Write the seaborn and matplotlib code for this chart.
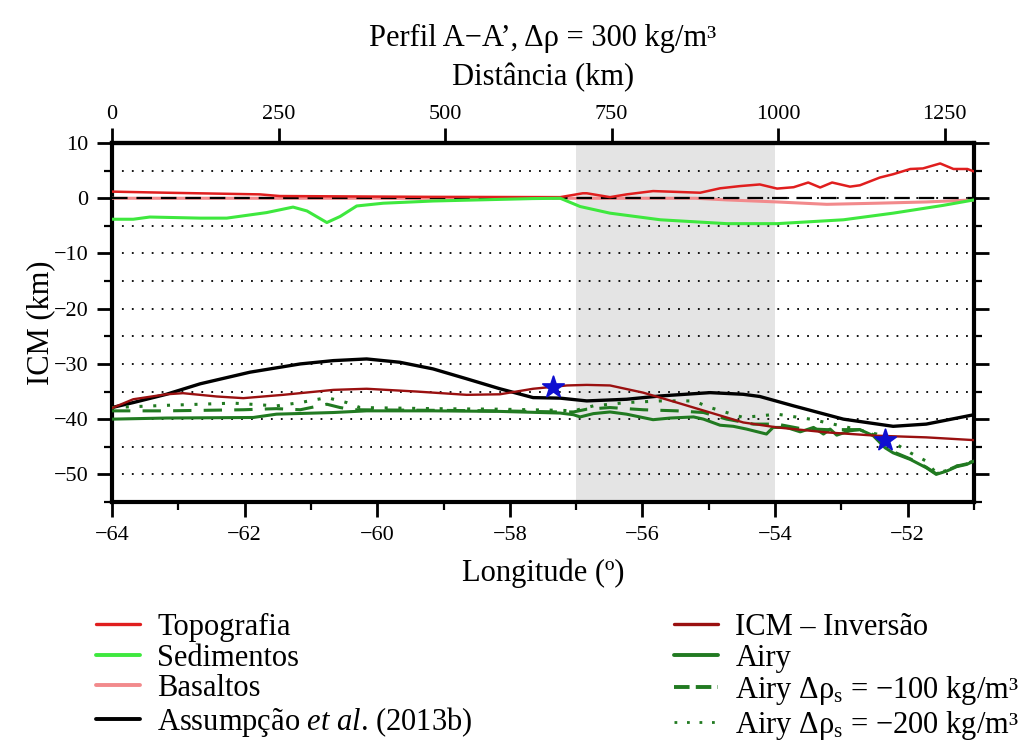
import numpy as np
import matplotlib
matplotlib.use("Agg")
import matplotlib.pyplot as plt
from matplotlib.ticker import MultipleLocator
from matplotlib.lines import Line2D
import seaborn as sns

# ---------------- data ----------------
topo_lon = [-64.0, -63.18, -61.77, -61.47, -59.16, -57.24, -56.9, -56.84, -56.49, -56.24, -55.84,
            -55.48, -55.13, -54.83, -54.53, -54.23, -53.97, -53.72, -53.5, -53.32, -53.14,
            -52.87, -52.72, -52.42, -52.22, -51.96, -51.77, -51.51, -51.31, -51.1, -51.0]
topo_val = [1.2, 1.0, 0.7, 0.4, 0.25, 0.2, 0.9, 0.9, 0.2, 0.7, 1.3,
            1.15, 1.0, 1.8, 2.2, 2.5, 1.75, 2.0, 2.85, 1.95, 2.85,
            2.1, 2.35, 3.75, 4.35, 5.3, 5.4, 6.3, 5.3, 5.3, 4.85]

sed_lon = [-64.0, -63.68, -63.43, -62.67, -62.27, -61.67, -61.27, -61.06, -60.76, -60.56, -60.31,
           -59.91, -59.16, -57.65, -57.24, -56.94, -56.49, -55.73, -54.73, -53.97, -52.97,
           -52.22, -51.47, -51.0]
sed_val = [-3.8, -3.8, -3.4, -3.6, -3.6, -2.6, -1.6, -2.3, -4.4, -3.3, -1.4,
           -0.9, -0.5, -0.06, 0.0, -1.5, -2.7, -3.9, -4.6, -4.6, -3.9,
           -2.7, -1.3, -0.3]

bas_lon = [-64.0, -57.0, -55.2, -54.73, -53.97, -53.22, -52.47, -51.72, -51.0]
bas_val = [0.0, 0.0, 0.0, -0.3, -0.67, -1.1, -0.9, -0.67, -0.3]

ass_lon = [-64.0, -63.68, -63.18, -62.67, -61.92, -61.16, -60.66, -60.16, -59.66, -59.16, -58.65,
           -58.15, -57.65, -57.24, -56.84, -56.24, -55.73, -54.98, -54.48, -54.23, -53.72,
           -52.97, -52.22, -51.72, -51.0]
ass_val = [-37.9, -37.0, -35.5, -33.6, -31.5, -30.0, -29.4, -29.1, -29.7, -30.9, -32.7,
           -34.5, -36.1, -36.2, -36.7, -36.4, -35.8, -35.2, -35.5, -35.9, -37.6,
           -40.0, -41.3, -40.9, -39.2]

icm_lon = [-64.0, -63.68, -63.18, -62.93, -62.42, -62.02, -61.42, -60.66, -60.16, -59.41, -58.65,
           -58.15, -57.65, -57.14, -56.84, -56.49, -55.99, -55.48, -54.98, -54.48, -53.97,
           -53.22, -52.47, -51.72, -51.0]
icm_val = [-38.0, -36.4, -35.5, -35.3, -35.9, -36.2, -35.6, -34.7, -34.5, -35.0, -35.6,
           -35.5, -34.5, -33.9, -33.8, -33.9, -35.2, -37.0, -38.8, -40.6, -41.5,
           -42.4, -43.0, -43.3, -43.8]

airy_lon = [-64.0, -63.18, -61.87, -61.52, -60.66, -60.16, -59.16, -58.15, -57.24, -57.04, -56.94,
            -56.74, -56.49, -56.24, -55.84, -55.58, -55.23, -55.08, -54.83, -54.63, -54.43,
            -54.23, -54.13, -54.03, -53.83, -53.62, -53.42, -53.27, -53.17, -53.07, -52.87,
            -52.72, -52.52, -52.34, -52.22, -51.96, -51.72, -51.57, -51.41, -51.26, -51.11, -51.0]
airy_val = [-40.0, -39.8, -39.7, -39.1, -38.8, -38.5, -38.5, -38.6, -38.9, -39.2, -39.6,
            -39.0, -38.7, -39.1, -40.1, -39.8, -39.6, -40.0, -41.1, -41.3, -41.8,
            -42.4, -42.7, -41.5, -41.5, -42.3, -41.5, -42.7, -41.8, -42.9, -42.1,
            -41.9, -43.0, -45.2, -46.1, -47.3, -48.8, -50.0, -49.4, -48.6, -48.2, -47.6]

a100_lon = [-64.0, -63.18, -62.02, -61.52, -61.16, -60.76, -60.56, -60.36, -59.16, -58.15, -57.24,
            -57.04, -56.84, -56.49, -55.99, -55.48, -55.08, -54.73, -54.33, -53.97, -53.62,
            -53.22, -52.72, -52.52, -52.34, -52.22, -51.96, -51.72, -51.57, -51.41, -51.26, -51.11, -51.0]
a100_val = [-38.5, -38.5, -38.3, -38.1, -38.3, -37.3, -37.9, -38.3, -38.4, -38.5, -38.7,
            -38.7, -38.2, -37.9, -38.3, -38.5, -38.8, -40.0, -40.9, -40.9, -41.7,
            -41.9, -41.9, -42.8, -44.8, -45.9, -47.2, -48.7, -49.9, -49.3, -48.5, -48.1, -47.5]

a200_lon = [-64.0, -63.18, -62.17, -61.52, -61.16, -60.76, -60.46, -60.26, -59.16, -58.15, -57.24,
            -57.04, -56.74, -56.24, -55.73, -55.23, -54.98, -54.48, -53.97, -53.47, -52.97,
            -52.47, -52.22, -51.96, -51.72, -51.57, -51.41, -51.26, -51.11, -51.0]
a200_val = [-37.9, -37.5, -37.1, -37.6, -37.0, -36.1, -37.0, -37.9, -38.1, -38.2, -38.4,
            -38.5, -37.6, -37.0, -36.7, -36.7, -37.9, -39.7, -39.1, -40.0, -41.3,
            -42.7, -44.2, -46.1, -47.6, -49.8, -49.3, -48.5, -48.1, -47.5]

star_lon = [-57.35, -52.34]
star_val = [-34.1, -43.7]

zero_lon = [-64.0, -51.0]
zero_val = [0.0, 0.0]

shade_lon = [-57.0, -54.0]
km_per_deg = 1294.0 / 13.0
top_ticks = [0, 250, 500, 750, 1000, 1250]

labels_left = ["Topografia", "Sedimentos", "Basaltos", "Assumpção $\\it{et\\ al}$. (2013b)"]
labels_right = ["ICM – Inversão", "Airy", "Airy Δρ$_\\mathrm{s}$ = −100 kg/m³",
                "Airy Δρ$_\\mathrm{s}$ = −200 kg/m³"]

# ---------------- style ----------------
sns.set_style("ticks")
plt.rcParams['font.family'] = ['Liberation Serif', 'DejaVu Serif']
plt.rcParams['mathtext.fontset'] = 'custom'
plt.rcParams['mathtext.rm'] = 'Liberation Serif'
plt.rcParams['mathtext.it'] = 'Liberation Serif:italic'
plt.rcParams['mathtext.bf'] = 'Liberation Serif:bold'
plt.rcParams['axes.unicode_minus'] = True
for k in ['text.color', 'axes.labelcolor', 'xtick.color', 'ytick.color', 'axes.edgecolor']:
    plt.rcParams[k] = 'black'

c_topo = '#e01e1e'
c_sed = '#3ee83e'
c_bas = '#f28a8c'
c_ass = '#000000'
c_icm = '#9a1010'
c_airy = '#217a21'

fig = plt.figure(figsize=(10.23, 7.43), dpi=100)
ax = fig.add_axes([0.1095, 0.3244, 0.8426, 0.4831])

ax.axvspan(shade_lon[0], shade_lon[1], color='#e4e4e4', lw=0, zorder=0)

sns.lineplot(x=bas_lon, y=bas_val, ax=ax, color=c_bas, lw=2.2, zorder=3)
sns.lineplot(x=zero_lon, y=zero_val, ax=ax, color='black', lw=1.6, zorder=4, linestyle=(0, (7, 4)))
sns.lineplot(x=topo_lon, y=topo_val, ax=ax, color=c_topo, lw=1.8, zorder=5)
sns.lineplot(x=sed_lon, y=sed_val, ax=ax, color=c_sed, lw=2.2, zorder=5)
sns.lineplot(x=ass_lon, y=ass_val, ax=ax, color=c_ass, lw=2.4, zorder=5)
sns.lineplot(x=icm_lon, y=icm_val, ax=ax, color=c_icm, lw=1.7, zorder=6)
sns.lineplot(x=airy_lon, y=airy_val, ax=ax, color=c_airy, lw=2.2, zorder=5)
sns.lineplot(x=a100_lon, y=a100_val, ax=ax, color=c_airy, lw=2.2, zorder=5, linestyle=(0, (6, 4)))
sns.lineplot(x=a200_lon, y=a200_val, ax=ax, color=c_airy, lw=2.2, zorder=5, linestyle=(0, (1, 3.5)))
sns.scatterplot(x=star_lon, y=star_val, ax=ax, marker='*', s=260, color='#1010d0',
                edgecolor='#1010d0', zorder=7)

ax.set_xlim(-64, -51)
ax.set_ylim(-55, 10)
ax.xaxis.set_major_locator(MultipleLocator(2))
ax.xaxis.set_minor_locator(MultipleLocator(1))
ax.yaxis.set_major_locator(MultipleLocator(10))
ax.yaxis.set_minor_locator(MultipleLocator(5))
ax.grid(False)
ax.yaxis.grid(True, which='both', linestyle=(0, (1, 4.5)), color='black', lw=1.3, zorder=1)
ax.set_axisbelow(True)

ax.tick_params(axis='both', which='major', direction='out', length=11, width=2, labelsize=16,
               right=True, top=False, pad=6)
ax.tick_params(axis='both', which='minor', direction='out', length=6, width=1.6,
               right=True, top=False)
for sp in ax.spines.values():
    sp.set_linewidth(3)
    sp.set_visible(True)
    sp.set_color('black')

ax.set_xlabel("Longitude (º)", fontsize=22, labelpad=10)
ax.set_ylabel("ICM (km)", fontsize=22, labelpad=-1)

sec = ax.secondary_xaxis('top', functions=(lambda x: (x + 64) * km_per_deg,
                                          lambda k: k / km_per_deg - 64))
sec.set_xticks(top_ticks)
sec.tick_params(direction='out', length=11, width=2, labelsize=16, pad=3)
sec.spines['top'].set_linewidth(3)
sec.set_xlabel("Distância (km)", fontsize=22, labelpad=14)

fig.text(543 / 1023, 1 - 38 / 743, "Perfil A−A’, Δρ = 300 kg/m³", ha='center', va='center', fontsize=22)

hl = [Line2D([], [], color=c_topo, lw=2.4),
      Line2D([], [], color=c_sed, lw=2.8),
      Line2D([], [], color=c_bas, lw=2.8),
      Line2D([], [], color=c_ass, lw=2.8)]
hr = [Line2D([], [], color=c_icm, lw=2.4),
      Line2D([], [], color=c_airy, lw=2.8),
      Line2D([], [], color=c_airy, lw=2.8, linestyle=(0, (4, 1.6))),
      Line2D([], [], color=c_airy, lw=2.0, linestyle=(0, (1, 3.5)))]
common = dict(frameon=False, fontsize=22, handlelength=1.45, handletextpad=0.55,
              labelspacing=0.05, borderpad=0, borderaxespad=0, loc='upper left')
fig.legend(hl, labels_left, bbox_to_anchor=(0.094, 1 - 613 / 743), **common)
fig.legend(hr, labels_right, bbox_to_anchor=(0.659, 1 - 613 / 743), **common)

fig.savefig("out.png", dpi=100)
